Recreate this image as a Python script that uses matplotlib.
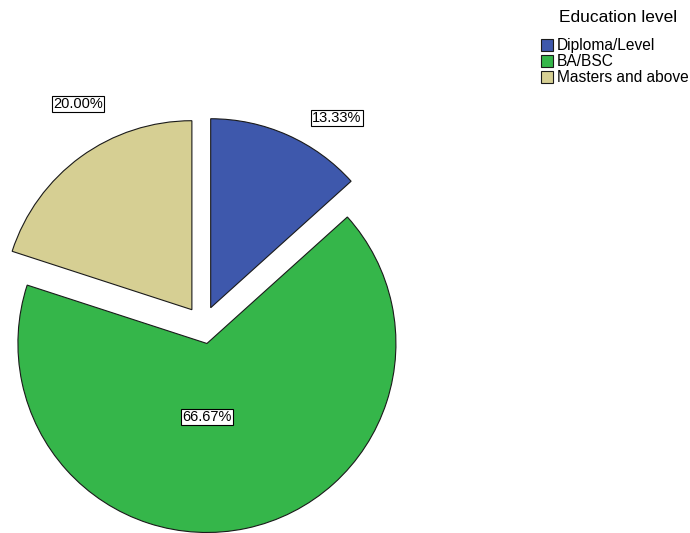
import numpy as np
import matplotlib
matplotlib.use("Agg")
import matplotlib.pyplot as plt

plt.rcParams['font.family'] = ['Liberation Sans', 'DejaVu Sans']

# Education level shares (percent)
categories = ['Diploma/Level', 'BA/BSC', 'Masters and above']
shares = [13.33, 66.67, 20.00]
colors = ['#3E58AC', '#35B64A', '#D6CF93']

# label placement: distance from slice centre and angle nudge (degrees)
label_dist = [1.205, 0.388, 1.243]
label_nudge = [-9.7, -12, -7]

fig = plt.figure(figsize=(6.9, 5.33), dpi=100)
ax = fig.add_axes([0, 0, 1, 1])

wedges, _ = ax.pie(shares, colors=colors, startangle=90, counterclock=False,
                   explode=[0.1] * len(shares), radius=1.0,
                   wedgeprops=dict(edgecolor='#1a1a1a', linewidth=0.8))

for w, val, d, nudge in zip(wedges, shares, label_dist, label_nudge):
    mid = np.deg2rad((w.theta1 + w.theta2) / 2 + nudge)
    cx, cy = w.center
    ax.text(cx + d * np.cos(mid), cy + d * np.sin(mid), f'{val:.2f}%',
            ha='center', va='center', fontsize=10.5,
            bbox=dict(boxstyle='square,pad=0.08', facecolor='white',
                      edgecolor='black', linewidth=0.8))

ax.set_aspect('equal')
ax.set_xlim(-203 / 189, 487 / 189)
ax.set_ylim(-208 / 189, 325 / 189)
ax.axis('off')

# legend title drawn on its own so the gap below it can be set freely
fig.text(618 / 690, 1 - 17 / 533, 'Education level', ha='center', va='center',
         fontsize=12.5)
leg = fig.legend(wedges, categories,
                 loc='upper left', bbox_to_anchor=(541 / 690, 1 - 38 / 533),
                 frameon=False, fontsize=11.2,
                 handlelength=0.8, handleheight=0.8, handletextpad=0.2,
                 labelspacing=0.08, borderaxespad=0, borderpad=0)

fig.savefig('out.png', dpi=100)
